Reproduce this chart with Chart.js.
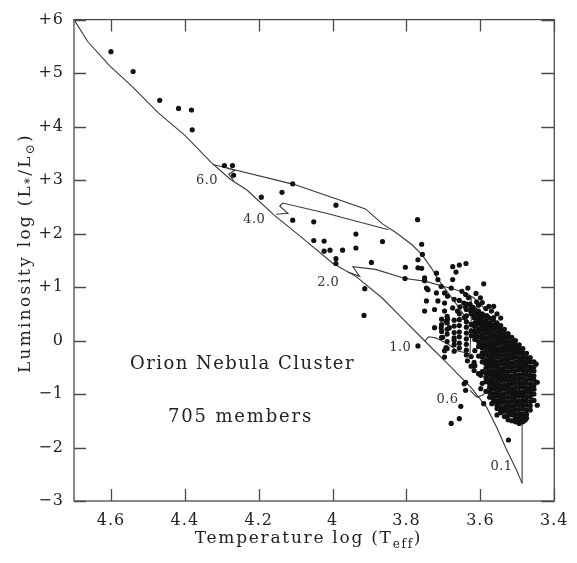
<!DOCTYPE html>
<html><head><meta charset="utf-8">
<script src="https://cdn.jsdelivr.net/npm/chart.js@4.4.0/dist/chart.umd.min.js"></script>
<style>html,body{margin:0;padding:0;background:#fff;}canvas{display:block;}</style>
</head><body>
<canvas id="c" width="577" height="563"></canvas>
<script>
// ---------- axis ticks ----------
const xTickValues = [4.6, 4.4, 4.2, 4.0, 3.8, 3.6, 3.4];
const xTickLabels = ['4.6', '4.4', '4.2', '4', '3.8', '3.6', '3.4'];
const yTickValues = [6, 5, 4, 3, 2, 1, 0, -1, -2, -3];
const yTickLabels = ['+6', '+5', '+4', '+3', '+2', '+1', '0', '\u22121', '\u22122', '\u22123'];

// ---------- curves [log Teff, log L] ----------
const zams = [[4.700,6.00],[4.663,5.59],[4.604,5.14],[4.543,4.75],[4.471,4.25],[4.399,3.83],[4.329,3.33],[4.276,3.01],[4.231,2.81],[4.159,2.35],[4.079,1.90],[3.999,1.44],[3.937,1.20],[3.865,0.79],[3.812,0.42],[3.743,-0.06],[3.689,-0.43],[3.625,-0.88],[3.583,-1.25],[3.556,-1.62],[3.529,-2.04],[3.503,-2.41],[3.487,-2.67]];
const birthline = [[4.324,3.29],[4.105,2.92],[3.911,2.46],[3.865,2.18],[3.831,2.03],[3.785,1.79],[3.759,1.61],[3.732,1.35],[3.716,1.16],[3.697,0.98],[3.665,0.68],[3.623,0.27],[3.577,-0.19],[3.532,-0.75],[3.497,-1.21],[3.487,-1.49],[3.487,-2.67]];
const track60 = [[4.287,3.23],[4.265,3.18],[4.281,3.11],[4.268,2.99]];
const track40 = [[3.849,2.07],[4.017,2.38],[4.135,2.57],[4.143,2.51],[4.121,2.38],[4.153,2.36]];
const track20 = [[3.959,1.28],[3.927,1.20],[3.945,1.38],[3.884,1.33],[3.804,1.16],[3.751,1.11],[3.671,0.96],[3.636,0.88],[3.617,0.79],[3.599,0.68],[3.585,0.55]];
const track10 = [[3.751,-0.01],[3.740,0.07],[3.721,0.05],[3.689,-0.06],[3.663,-0.19],[3.628,-0.25],[3.625,0.37],[3.625,0.83]];
const track06 = [[3.628,-0.93],[3.609,-1.06],[3.591,-1.01],[3.580,-0.88],[3.577,-0.69],[3.575,-0.38],[3.572,-0.10]];

// ---------- cluster members [log Teff, log L] ----------
const hotMembers = [[4.600,5.40],[4.540,5.03],[4.468,4.49],[4.417,4.34],[4.382,4.31],[4.380,3.94],
 [4.293,3.27],[4.271,3.27],[4.268,3.09],[4.193,2.68],[4.137,2.77],[4.108,2.93],[4.108,2.25],
 [3.991,2.53],[4.051,2.22],[3.937,1.99],[4.051,1.87],[4.023,1.86],[4.023,1.67],[4.007,1.69],[3.973,1.69],
 [3.937,1.73],[3.865,1.85],[3.991,1.53],[3.991,1.44],[3.895,1.46],[3.913,0.97],[3.915,0.47]];
const coolMembers = [[3.770,2.26],[3.759,1.80],[3.757,1.61],[3.769,1.51],[3.803,1.37],[3.769,1.36],[3.759,1.35],[3.719,1.26],[3.675,1.38],[3.657,1.41],[3.639,1.44],[3.666,1.28],[3.804,1.16],[3.751,1.12],[3.715,1.14],[3.675,1.14],[3.591,1.06],
 [3.742,0.95],[3.706,1.01],[3.719,0.89],[3.697,0.89],[3.679,0.98],[3.689,0.83],[3.746,0.74],[3.671,0.77],[3.715,0.74],[3.697,0.70],[3.657,0.75],[3.751,0.55],[3.724,0.58],[3.697,0.55],[3.675,0.61],[3.626,0.55],[3.609,0.55],[3.577,0.64],[3.564,0.64],
 [3.689,0.40],[3.644,0.43],[3.617,0.43],[3.599,0.43],[3.582,0.46],[3.564,0.43],
 [3.769,-0.10],[3.697,-0.19],[3.640,-0.78],[3.640,-0.93],[3.653,-1.23],[3.657,-1.46],[3.679,-1.55],[3.524,-1.86],[3.446,-0.78],[3.446,-1.21],[3.449,-0.44],[3.591,-1.18],
 [3.751,1.17],[3.746,0.98],[3.724,0.24],[3.706,0.24],[3.693,0.36],[3.684,0.24],[3.702,0.06],[3.693,-0.13],[3.671,0.00],[3.697,-0.31],[3.635,-0.38],
 [3.644,-0.81],[3.599,-0.90],[3.599,-0.65],[3.617,-0.56],[3.617,-0.41],[3.569,-1.18],[3.546,-1.30],[3.555,-1.39],[3.533,-1.30],[3.520,-1.36],[3.502,-1.49],[3.479,-1.49],[3.551,-0.84],
 [3.605,0.66],[3.585,0.60],[3.570,0.55],[3.555,0.50],[3.545,0.42],[3.595,0.71],[3.610,0.72],
 [3.650,0.92],[3.640,0.86],[3.632,0.80],[3.645,0.70],[3.628,0.68],[3.655,0.63],[3.640,0.62],[3.620,0.62],[3.662,0.55],[3.634,0.98],[3.612,0.88],[3.600,0.80]];
// spectral-type columns of the mid region
const midTeff = [3.705, 3.690, 3.671, 3.657, 3.638, 3.625];
const midLum = [
 [0.40,0.30,0.17,0.06],
 [0.45,0.33,0.21,0.12,-0.02,-0.15],
 [0.38,0.27,0.15,0.05,-0.08,-0.20],
 [0.50,0.39,0.28,0.16,0.07,-0.05,-0.14],
 [0.68,0.58,0.46,0.35,0.25,0.14,0.03,-0.07,-0.18,-0.27],
 [0.62,0.50,0.30,0.18,0.09,-0.30,-0.48]];
// dense low-mass core
const coreTeff = [3.615,3.605,3.595,3.585,3.575,3.565,3.555,3.545,3.535,3.525,3.515,3.505,3.495,3.485,3.475,3.465,3.455];
const coreLum = [
 [0.58,0.49,0.42,0.33,0.27,0.18,0.11,0.02,-0.19,-0.47],
 [0.55,0.47,0.38,0.31,0.22,0.16,0.07,-0.02,-0.11,-0.29,-0.62],
 [0.50,0.43,0.34,0.26,0.19,0.10,0.03,-0.06,-0.14,-0.23,-0.31,-0.40,-0.58,-0.80],
 [0.46,0.37,0.30,0.21,0.14,0.05,-0.03,-0.11,-0.20,-0.27,-0.36,-0.44,-0.52,-0.61,-0.69,-0.77,-0.95],
 [0.42,0.33,0.26,0.17,0.09,0.02,-0.07,-0.15,-0.22,-0.31,-0.39,-0.47,-0.56,-0.63,-0.72,-0.80,-0.88,-0.97,-1.06],
 [0.38,0.29,0.22,0.13,0.06,-0.03,-0.11,-0.19,-0.26,-0.35,-0.43,-0.50,-0.59,-0.67,-0.75,-0.84,-0.91,-1.00,-1.08,-1.15],
 [0.33,0.25,0.18,0.09,0.01,-0.07,-0.16,-0.23,-0.31,-0.40,-0.47,-0.56,-0.64,-0.71,-0.80,-0.88,-0.96,-1.04,-1.13,-1.21,-1.27],
 [0.28,0.20,0.12,0.04,-0.04,-0.13,-0.20,-0.28,-0.37,-0.44,-0.53,-0.60,-0.69,-0.76,-0.85,-0.92,-1.01,-1.09,-1.17,-1.26,-1.35],
 [0.21,0.13,0.05,-0.03,-0.11,-0.19,-0.27,-0.35,-0.43,-0.51,-0.58,-0.67,-0.74,-0.83,-0.90,-0.99,-1.07,-1.15,-1.24,-1.32,-1.42],
 [0.13,0.06,-0.02,-0.10,-0.18,-0.26,-0.34,-0.42,-0.49,-0.58,-0.66,-0.73,-0.82,-0.89,-0.97,-1.06,-1.14,-1.22,-1.30,-1.39,-1.48],
 [0.06,-0.02,-0.10,-0.17,-0.26,-0.33,-0.42,-0.50,-0.57,-0.66,-0.74,-0.81,-0.90,-0.98,-1.06,-1.14,-1.23,-1.31,-1.39,-1.50],
 [0.00,-0.08,-0.16,-0.24,-0.31,-0.40,-0.47,-0.56,-0.64,-0.71,-0.80,-0.88,-0.96,-1.04,-1.12,-1.21,-1.29,-1.37,-1.45,-1.52],
 [-0.08,-0.16,-0.23,-0.32,-0.39,-0.48,-0.55,-0.64,-0.72,-0.80,-0.88,-0.97,-1.04,-1.13,-1.21,-1.29,-1.38,-1.46,-1.55],
 [-0.15,-0.23,-0.31,-0.39,-0.47,-0.55,-0.63,-0.71,-0.80,-0.87,-0.96,-1.03,-1.12,-1.20,-1.28,-1.37,-1.44,-1.52],
 [-0.24,-0.32,-0.40,-0.48,-0.56,-0.64,-0.73,-0.80,-0.89,-0.96,-1.05,-1.13,-1.21,-1.30,-1.38,-1.45],
 [-0.32,-0.40,-0.49,-0.56,-0.65,-0.72,-0.81,-0.89,-0.97,-1.05,-1.14,-1.22,-1.30],
 [-0.40,-0.49,-0.57,-0.66,-0.74,-0.83,-0.91,-1.00,-1.12]];

// ---------- text ----------
const trackLabels = ['6.0', '4.0', '2.0', '1.0', '0.6', '0.1'];
const trackLabelAt = [[4.340,3.01],[4.212,2.29],[4.012,1.11],[3.817,-0.10],[3.689,-1.08],[3.543,-2.34]];
const clusterName = 'Orion Nebula Cluster';
const memberText = '705 members';

// ---------- build ----------
const toXY = a => a.map(p => ({x: p[0], y: p[1]}));
const fromColumns = (ts, ls) => ts.flatMap((t, i) => ls[i].map(l => ({x: t, y: l})));
const members = [...toXY(hotMembers), ...toXY(coolMembers), ...fromColumns(midTeff, midLum), ...fromColumns(coreTeff, coreLum)];

const lineDs = (d) => ({data: toXY(d), showLine: true, pointRadius: 0, borderColor: '#3a3a3a', borderWidth: 1.1, fill: false, tension: 0});
const SERIF = "'DejaVu Serif', 'Liberation Serif', serif";

function measure(ctx, t, sp) {
  ctx.letterSpacing = '0px';
  const w0 = ctx.measureText(t).width;
  if (!sp) return w0;
  ctx.letterSpacing = sp + 'px';
  const w1 = ctx.measureText(t).width;
  return Math.abs(w1 - w0) < 0.01 ? w0 + sp * t.length : w1;
}
// parts: [{t, sub}] drawn with letter spacing fitted to target width
function drawRich(ctx, parts, cx, by, size, target) {
  const fontOf = p => (p.sub ? Math.round(size * 0.68) : size) + 'px ' + SERIF;
  let nat = 0, n = 0;
  parts.forEach(p => { ctx.font = fontOf(p); nat += measure(ctx, p.t, 0); n += p.t.length; });
  const sp = target ? (target - nat) / n : 0;
  let w = 0;
  parts.forEach(p => { ctx.font = fontOf(p); w += measure(ctx, p.t, sp); });
  let x = cx - w / 2;
  ctx.textAlign = 'left';
  ctx.textBaseline = 'alphabetic';
  parts.forEach(p => {
    ctx.font = fontOf(p);
    ctx.letterSpacing = sp + 'px';
    ctx.fillText(p.t, x, by + (p.sub ? size * 0.28 : 0));
    x += measure(ctx, p.t, sp);
  });
  ctx.letterSpacing = '0px';
}

const decor = {
  id: 'decor',
  beforeDraw(chart) { chart.ctx.letterSpacing = '1px'; },
  afterDraw(chart) {
    const {ctx, chartArea: a, scales: {x, y}} = chart;
    ctx.save();
    ctx.letterSpacing = '0px';
    ctx.strokeStyle = '#4a4a4a';
    ctx.lineWidth = 1.3;
    ctx.strokeRect(a.left, a.top, a.right - a.left, a.bottom - a.top);
    ctx.beginPath();
    xTickValues.forEach(v => {
      const px = Math.round(x.getPixelForValue(v)) + 0.5;
      ctx.moveTo(px, a.bottom); ctx.lineTo(px, a.bottom - 12);
      ctx.moveTo(px, a.top); ctx.lineTo(px, a.top + 12);
    });
    yTickValues.forEach(v => {
      const py = Math.round(y.getPixelForValue(v)) + 0.5;
      ctx.moveTo(a.left, py); ctx.lineTo(a.left + 12, py);
      ctx.moveTo(a.right, py); ctx.lineTo(a.right - 13, py);
    });
    ctx.stroke();

    ctx.fillStyle = '#222';
    // axis titles
    drawRich(ctx, [{t: 'Temperature log (T'}, {t: 'eff', sub: true}, {t: ')'}], 308.5, 543, 17, 227);
    ctx.save();
    ctx.translate(29.5, 253);
    ctx.rotate(-Math.PI / 2);
    drawRich(ctx, [{t: 'Luminosity log (L'}, {t: '*', sub: true}, {t: '/L'}, {t: '\u2299', sub: true}, {t: ')'}], 0, 0, 17, 240);
    ctx.restore();
    // cluster text
    drawRich(ctx, [{t: clusterName}], 242.5, 368.5, 18, 225);
    drawRich(ctx, [{t: memberText}], 240.5, 421.5, 18, 145);
    // track mass labels
    ctx.fillStyle = '#333';
    trackLabels.forEach((t, i) => {
      const px = x.getPixelForValue(trackLabelAt[i][0]);
      const py = y.getPixelForValue(trackLabelAt[i][1]);
      drawRich(ctx, [{t}], px, py + 4.7, 13, 22);
    });
    ctx.restore();
  }
};

new Chart(document.getElementById('c'), {
  type: 'scatter',
  data: {
    datasets: [
      {data: members, pointRadius: 2.6, pointHoverRadius: 2.6, backgroundColor: '#111', borderWidth: 0},
      lineDs(zams), lineDs(birthline), lineDs(track60), lineDs(track40), lineDs(track20), lineDs(track10), lineDs(track06)
    ]
  },
  options: {
    responsive: false, animation: false, devicePixelRatio: 1,
    layout: {padding: {left: 0, top: 16, right: 14, bottom: 0}},
    plugins: {legend: {display: false}, tooltip: {enabled: false}},
    events: [],
    scales: {
      x: {
        type: 'linear', reverse: true, min: 3.4, max: 4.7,
        afterBuildTicks: s => { s.ticks = xTickValues.map(v => ({value: v})); },
        afterFit: s => { s.height = 62; },
        grid: {display: false, drawTicks: false},
        border: {display: false},
        ticks: {
          padding: 10, color: '#222', maxRotation: 0, autoSkip: false,
          font: {family: SERIF, size: 16},
          callback: v => xTickLabels[xTickValues.findIndex(t => Math.abs(t - v) < 1e-9)]
        }
      },
      y: {
        type: 'linear', min: -3, max: 6,
        afterBuildTicks: s => { s.ticks = yTickValues.map(v => ({value: v})); },
        afterFit: s => { s.width = 74; },
        grid: {display: false, drawTicks: false},
        border: {display: false},
        ticks: {
          padding: 10, color: '#222', autoSkip: false,
          font: {family: SERIF, size: 16},
          callback: v => yTickLabels[yTickValues.findIndex(t => Math.abs(t - v) < 1e-9)]
        }
      }
    }
  },
  plugins: [decor]
});
</script>
</body></html>
